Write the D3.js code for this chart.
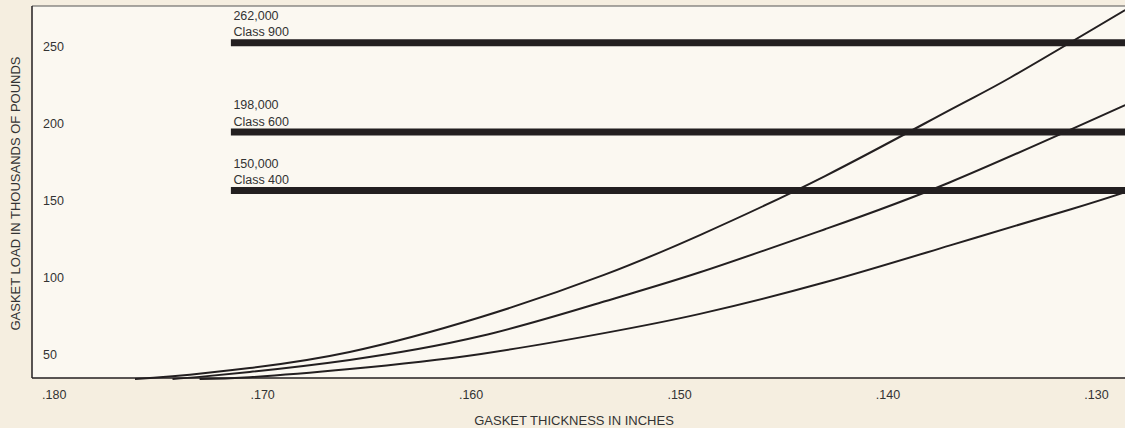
<!DOCTYPE html>
<html>
<head>
<meta charset="utf-8">
<script src="https://cdn.jsdelivr.net/npm/d3@7/dist/d3.min.js"></script>
<style>
  html, body { margin: 0; padding: 0; background: #f5eee0; }
  svg { display: block; font-family: "Liberation Sans", Arial, sans-serif; }
</style>
</head>
<body>
<svg id="chart" width="1125" height="428"></svg>
<script>
// ---- data ----
const thicknessTicks = [0.180, 0.170, 0.160, 0.150, 0.140, 0.130];
const loadTicks = [50, 100, 150, 200, 250];

const curve1Thickness = [0.1761, 0.1743, 0.1706, 0.1658, 0.1595, 0.1536, 0.1490, 0.1430, 0.1370, 0.1341, 0.1286];
const curve1Load      = [34.2, 36.0, 41.4, 51.8, 74.5, 101.8, 127.7, 166.0, 209.0, 230.0, 273.8];

const curve2Thickness = [0.1743, 0.1730, 0.1706, 0.1658, 0.1595, 0.1536, 0.1490, 0.1430, 0.1370, 0.1286];
const curve2Load      = [34.2, 35.6, 38.8, 46.6, 62.1, 84.5, 103.5, 131.5, 162.0, 212.1];

const curve3Thickness = [0.1730, 0.1706, 0.1658, 0.1595, 0.1536, 0.1490, 0.1430, 0.1370, 0.1312, 0.1286];
const curve3Load      = [34.2, 35.4, 40.7, 50.5, 64.0, 76.5, 97.0, 121.0, 144.5, 155.6];

const barLoads   = [252.6, 194.6, 156.6];
const barValues  = ["262,000", "198,000", "150,000"];
const barClasses = ["Class 900", "Class 600", "Class 400"];
const barStartThickness = 0.1715;

const xTitle = "GASKET THICKNESS IN INCHES";
const yTitle = "GASKET LOAD IN THOUSANDS OF POUNDS";

// ---- layout ----
const W = 1125, H = 428;
const plot = { left: 32, top: 6, right: 1125, bottom: 378 };
const ink = "#231f20", txt = "#333333";

const svg = d3.select("#chart");
svg.append("rect").attr("width", W).attr("height", H).attr("fill", "#f5eee0");
svg.append("rect")
  .attr("x", plot.left).attr("y", plot.top)
  .attr("width", plot.right - plot.left).attr("height", plot.bottom - plot.top)
  .attr("fill", "#fbf8f1");

const x = d3.scaleLinear().domain([0.180, 0.130]).range([53.7, 1096]);
const y = d3.scaleLinear().domain([50, 250]).range([354.7, 46.7]);

svg.append("defs").append("clipPath").attr("id", "clip")
  .append("rect")
  .attr("x", plot.left).attr("y", plot.top)
  .attr("width", plot.right - plot.left).attr("height", plot.bottom - plot.top + 3);

const g = svg.append("g").attr("clip-path", "url(#clip)");

// horizontal class bars
const bars = barLoads.map((v, i) => ({ load: v, value: barValues[i], cls: barClasses[i] }));
g.selectAll("line.bar").data(bars).enter().append("line")
  .attr("class", "bar")
  .attr("x1", x(barStartThickness)).attr("x2", plot.right + 5)
  .attr("y1", d => y(d.load)).attr("y2", d => y(d.load))
  .attr("stroke", ink).attr("stroke-width", 7);

// curves
const curves = [
  curve1Thickness.map((t, i) => ({ t, v: curve1Load[i] })),
  curve2Thickness.map((t, i) => ({ t, v: curve2Load[i] })),
  curve3Thickness.map((t, i) => ({ t, v: curve3Load[i] }))
];
const line = d3.line().x(d => x(d.t)).y(d => y(d.v)).curve(d3.curveNatural);
g.selectAll("path.curve").data(curves).enter().append("path")
  .attr("class", "curve")
  .attr("d", line)
  .attr("fill", "none").attr("stroke", ink).attr("stroke-width", 2);

// bar labels
const lbl = svg.append("g").attr("font-size", 12.5).attr("fill", txt);
bars.forEach(d => {
  const top = y(d.load) - 3.5;
  lbl.append("text").attr("x", x(barStartThickness) + 2.5).attr("y", top - 19.5).text(d.value);
  lbl.append("text").attr("x", x(barStartThickness) + 2.5).attr("y", top - 3).text(d.cls);
});

// frame
svg.append("line").attr("x1", plot.left).attr("x2", plot.right)
  .attr("y1", plot.top).attr("y2", plot.top).attr("stroke", "#555").attr("stroke-width", 1);
svg.append("line").attr("x1", plot.left).attr("x2", plot.left)
  .attr("y1", plot.top).attr("y2", plot.bottom).attr("stroke", ink).attr("stroke-width", 1.5);
svg.append("line").attr("x1", plot.left).attr("x2", plot.right)
  .attr("y1", plot.bottom).attr("y2", plot.bottom).attr("stroke", ink).attr("stroke-width", 1.5);

// axes
const fmt = d => d3.format(".3f")(d).replace(/^0/, "");
const xAxis = svg.append("g").attr("transform", `translate(0,${plot.bottom})`)
  .call(d3.axisBottom(x).tickValues(thicknessTicks).tickFormat(fmt).tickSize(0).tickPadding(12));
xAxis.select(".domain").remove();
xAxis.selectAll("text").attr("font-size", 12.5).attr("fill", txt).attr("font-family", null);

const yAxis = svg.append("g").attr("transform", `translate(43,0)`)
  .call(d3.axisRight(y).tickValues(loadTicks).tickSize(0).tickPadding(0));
yAxis.select(".domain").remove();
yAxis.selectAll("text").attr("font-size", 12.5).attr("fill", txt).attr("font-family", null);

// titles
svg.append("text").attr("x", 574).attr("y", 425).attr("text-anchor", "middle")
  .attr("font-size", 13).attr("fill", txt).text(xTitle);
svg.append("text").attr("transform", "translate(20,193.5) rotate(-90)")
  .attr("text-anchor", "middle").attr("font-size", 13).attr("fill", txt).text(yTitle);
</script>
</body>
</html>
